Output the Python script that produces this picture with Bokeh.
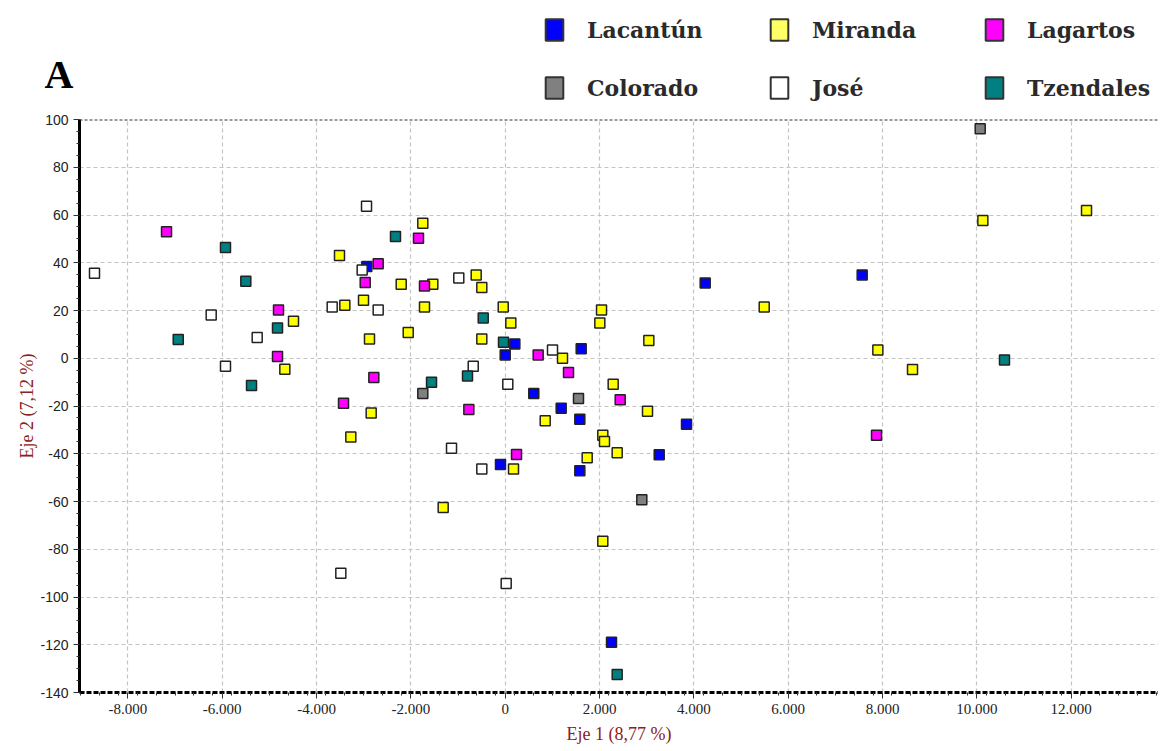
from bokeh.plotting import figure
from bokeh.layouts import column
from bokeh.models import Legend, LegendItem, Span, FixedTicker, ColumnDataSource, Range1d
from bokeh.embed import file_html
from bokeh.resources import INLINE

# ---- data (Eje 1, Eje 2) per river ----
lacantun_x = [-2934, 0, 204, 1611, 4240, 7568, 606, 1187, 1582, 3844, 3265, -100, 1582, 2254]
lacantun_y = [38.4, 1.4, 6.0, 4.0, 31.5, 34.9, -14.8, -20.9, -25.5, -27.6, -40.4, -44.5, -47.1, -119.0]

colorado_x = [10070, -1747, 1554, 2896]
colorado_y = [96.1, -14.8, -16.9, -59.3]

miranda_x = [-4488, -4672, -3513, -1747, -2205, -1535, -615, -496, -3400, -3004, -1711, -42,
             -2877, -2056, -496, 119, 1215, 2042, 2006, 3045, 5491, 2289, 10126, 12324, 7900,
             8635, -2841, -3273, -1315, 3017, 848, 2069, 2105, 2374, 1738, 176, 2069]
miranda_y = [15.5, -4.6, 43.0, 56.5, 31.0, 31.0, 34.9, 29.6, 22.2, 24.3, 21.5, 21.5,
             8.1, 10.8, 8.1, 14.8, 0.0, 20.2, 14.8, 7.4, 21.5, -10.9, 57.7, 61.9, 3.5,
             -4.7, -22.9, -33.0, -62.5, -22.2, -26.2, -32.2, -34.9, -39.6, -41.7, -46.4, -76.7]

lagartos_x = [-7180, -4806, -4827, -1838, -2693, -2968, -1711, -2785, -3428, 699, 1342, 2438, -771, 240, 7872]
lagartos_y = [53.0, 20.2, 0.7, 50.3, 39.6, 31.7, 30.3, -8.1, -18.8, 1.4, -6.0, -17.4, -21.5, -40.3, -32.3]

jose_x = [-8707, -6233, -5258, -5930, -2940, -3032, -984, -3668, -2693, -678, 55, 1003, -1138, -496, -3485, 21]
jose_y = [35.6, 18.1, 8.7, -3.3, 63.7, 37.0, 33.6, 21.5, 20.2, -3.3, -10.9, 3.5, -37.7, -46.4, -90.1, -94.3]

tzendales_x = [-5930, -5499, -6932, -4827, -5378, -2326, -466, -36, -799, -1562, 10585, 2374]
tzendales_y = [46.4, 32.2, 7.9, 12.7, -11.4, 51.0, 16.9, 6.7, -7.4, -10.0, -0.7, -132.5]

series_names = ["Lacantún", "Miranda", "Lagartos", "Colorado", "José", "Tzendales"]
series_colors = ["#0000ff", "#ffff00", "#ff00ff", "#808080", "#ffffff", "#008080"]
legend_colors = ["#0000ff", "#ffff66", "#ff00ff", "#808080", "#ffffff", "#008080"]
series_x = [lacantun_x, miranda_x, lagartos_x, colorado_x, jose_x, tzendales_x]
series_y = [lacantun_y, miranda_y, lagartos_y, colorado_y, jose_y, tzendales_y]

x_ticks = [-8000, -6000, -4000, -2000, 0, 2000, 4000, 6000, 8000, 10000, 12000, 14000]
x_tick_labels = ["-8.000", "-6.000", "-4.000", "-2.000", "0", "2.000", "4.000", "6.000",
                 "8.000", "10.000", "12.000", "14.000"]
y_ticks = [-140, -120, -100, -80, -60, -40, -20, 0, 20, 40, 60, 80, 100]
y_tick_labels = ["-140", "-120", "-100", "-80", "-60", "-40", "-20", "0", "20", "40", "60", "80", "100"]

W = 1158

# ---------------- main scatter figure ----------------
p = figure(width=W, height=637, output_backend="svg", toolbar_location=None,
           x_range=(-9025, 13850), y_range=(-140, 100),
           min_border_left=79, min_border_right=0, min_border_top=8, min_border_bottom=56,
           background_fill_color="white", border_fill_color="white")
p.outline_line_color = None

for g in (p.xgrid, p.ygrid):
    g.grid_line_color = "#c4c4c4"
    g.grid_line_dash = "4 3"
    g.grid_line_width = 1.2
p.xgrid.ticker = FixedTicker(ticks=x_ticks)
p.ygrid.ticker = FixedTicker(ticks=y_ticks)

top_line = Span(location=100, dimension="width", line_color="#333333",
                line_dash="3 2", line_width=2)
p.add_layout(top_line)

p.xaxis.ticker = FixedTicker(ticks=x_ticks,
                             minor_ticks=[x for x in range(-9000, 14001, 400)])
p.xaxis.major_label_overrides = {t: l for t, l in zip(x_ticks, x_tick_labels)}
p.yaxis.ticker = FixedTicker(ticks=y_ticks, minor_ticks=list(range(-140, 101, 5)))
p.yaxis.major_label_overrides = {t: l for t, l in zip(y_ticks, y_tick_labels)}
for ax in (p.xaxis, p.yaxis):
    ax.axis_line_color = "black"
    ax.axis_line_width = 3
    ax.major_tick_line_color = "#333333"
    ax.minor_tick_line_color = "#333333"
    ax.major_tick_out = 6
    ax.major_tick_in = 0
    ax.minor_tick_out = 3
    ax.minor_tick_in = 0
    ax.major_label_standoff = 5
    ax.major_label_text_color = "#222222"
    ax.axis_label_text_color = "#8b2020"
    ax.axis_label_text_font = "Liberation Serif"
    ax.axis_label_text_font_style = "normal"
    ax.axis_label_text_font_size = "18px"
p.xaxis.axis_line_dash = "5 2"
p.xaxis.major_label_text_font = "Liberation Sans Narrow"
p.xaxis.major_label_text_font_size = "15px"
p.yaxis.major_label_text_font = "Liberation Sans"
p.yaxis.major_label_text_font_size = "14px"
p.xaxis.axis_label = "Eje 1 (8,77 %)"
p.yaxis.axis_label = "Eje 2 (7,12 %)"
p.xaxis.axis_label_standoff = 7
p.yaxis.axis_label_standoff = 0

sources = []
for col, xs, ys in zip(series_colors, series_x, series_y):
    src = ColumnDataSource(data=dict(x=xs, y=ys))
    sources.append(src)
    p.scatter("x", "y", source=src, marker="square", size=10,
              fill_color=col, line_color="#222222", line_width=1.5)

# ---------------- header: panel letter "A" and legend ----------------
head = figure(width=W, height=111, output_backend="svg", toolbar_location=None,
              x_range=Range1d(0, 1), y_range=Range1d(1000, 1001),
              x_axis_location=None, y_axis_location="left",
              min_border_left=79, min_border_right=0, min_border_top=0, min_border_bottom=0,
              background_fill_color="white", border_fill_color="white")
head.outline_line_color = None
head.xgrid.visible = False
head.ygrid.visible = False
hy = head.yaxis[0]
hy.ticker = FixedTicker(ticks=[])
hy.axis_line_color = None
hy.major_tick_line_color = None
hy.minor_tick_line_color = None
hy.axis_label = "\nA"
hy.axis_label_orientation = "horizontal"
hy.axis_label_standoff = 6
hy.axis_label_text_font = "Liberation Serif"
hy.axis_label_text_font_style = "bold"
hy.axis_label_text_font_size = "40px"
hy.axis_label_text_line_height = 0.8
hy.axis_label_text_color = "black"

items = []
for name, lcol, src in zip(series_names, legend_colors, sources):
    # zero-size boxes on the series' own points (outside this header's ranges):
    # they only give the legend a full square swatch
    box = head.rect("x", "y", width=0, height=0, source=src, fill_color=lcol,
                    line_color="#333333", line_width=2)
    items.append(LegendItem(label=name, renderers=[box]))

legend_x = [464, 689, 904]
for i, lx in enumerate(legend_x):
    lg = Legend(items=[items[i], items[i + 3]], orientation="vertical",
                location=(lx, 10), glyph_width=22, glyph_height=27,
                label_standoff=22, spacing=31, padding=8, margin=0,
                label_height=27,
                label_text_font="DejaVu Serif", label_text_font_style="bold",
                label_text_font_size="22px", label_text_color="#2a2a2a",
                border_line_color=None, background_fill_alpha=0)
    head.add_layout(lg)

layout = column(head, p, spacing=0)
open("out.html", "w").write(file_html(layout, INLINE))
